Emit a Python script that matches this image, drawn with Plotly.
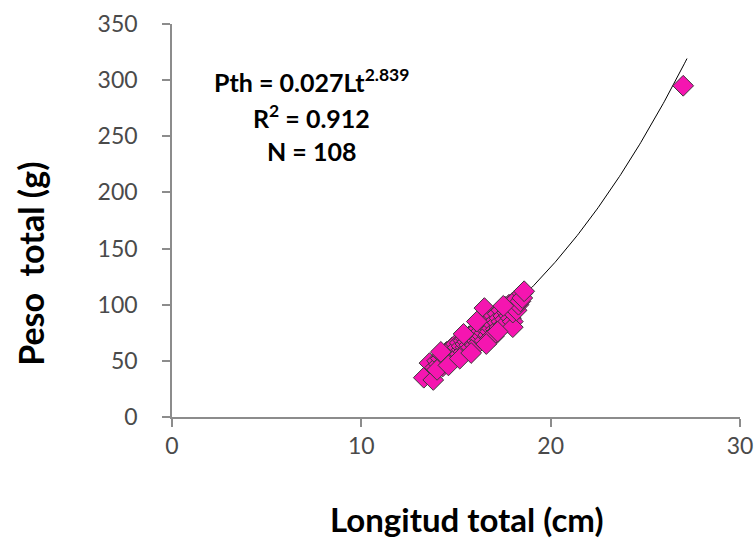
import numpy as np
import plotly.graph_objects as go

# Longitud total (cm) and Peso total (g)
longitud = [13.3, 13.8, 13.6, 13.9, 14.0, 14.1, 14.2, 14.3, 14.3, 14.4,
            14.5, 14.5, 14.6, 14.7, 14.7, 14.8, 14.8, 14.9, 15.0, 15.0,
            15.0, 15.1, 15.1, 15.2, 15.2, 15.3, 15.3, 15.4, 15.4, 15.5,
            15.5, 15.5, 15.6, 15.6, 15.7, 15.7, 15.8, 15.8, 15.9, 15.9,
            16.0, 16.0, 16.0, 16.1, 16.1, 16.2, 16.2, 16.2, 16.3, 16.3,
            16.4, 16.4, 16.5, 16.5, 16.5, 16.6, 16.6, 16.7, 16.7, 16.8,
            16.8, 16.9, 16.9, 17.0, 17.0, 17.0, 17.1, 17.1, 17.2, 17.2,
            17.3, 17.3, 17.4, 17.4, 17.5, 17.5, 17.6, 17.6, 17.7, 17.7,
            17.8, 17.8, 17.9, 17.9, 18.0, 18.0, 18.0, 18.0, 18.1, 18.2,
            18.2, 18.3, 18.4, 18.5, 18.5, 18.6, 14.0, 14.6, 15.2, 16.8,
            17.5, 16.1, 15.4, 14.2, 16.6, 15.8, 17.2, 27.0]
peso = [35, 33, 48, 44, 50, 47, 52, 45, 55, 49,
        53, 58, 50, 56, 60, 54, 62, 57, 53, 60,
        65, 58, 62, 56, 66, 60, 63, 58, 68, 62,
        65, 70, 60, 67, 64, 72, 62, 68, 66, 74,
        64, 70, 76, 68, 72, 66, 74, 79, 70, 76,
        72, 80, 97, 68, 75, 78, 83, 73, 80, 76,
        85, 79, 88, 72, 82, 90, 78, 86, 84, 92,
        80, 88, 85, 95, 82, 90, 87, 98, 84, 93,
        90, 100, 88, 96, 85, 80, 93, 102, 98, 95,
        105, 100, 103, 110, 106, 112, 42, 46, 52, 70,
        99, 85, 74, 58, 65, 57, 76, 295]

# Fitted power model Pth = a * Lt^b
coef_a = 0.027
coef_b = 2.839
fit_x = np.linspace(min(longitud), 27.2, 200)
fit_y = coef_a * fit_x ** coef_b

x_ticks = [0, 10, 20, 30]
y_ticks = [0, 50, 100, 150, 200, 250, 300, 350]

FONT = "Lato, 'Open Sans', sans-serif"

fig = go.Figure()
fig.add_trace(go.Scatter(
    x=fit_x, y=fit_y, mode="lines",
    line=dict(color="black", width=1), showlegend=False, hoverinfo="skip"))
fig.add_trace(go.Scatter(
    x=longitud, y=peso, mode="markers",
    marker=dict(symbol="diamond", size=16, color="#F515B0",
                line=dict(color="#3a3a3a", width=1)),
    showlegend=False, hoverinfo="x+y"))

annot = ["Pth = 0.027Lt<sup>2.839</sup>", "R<sup>2</sup> = 0.912", "N = 108"]
annot_y = [300, 268, 237]
for t, yy in zip(annot, annot_y):
    fig.add_annotation(x=7.35, y=yy, text=t, showarrow=False,
                       font=dict(family=FONT, size=25, color="black", weight="bold"),
                       xanchor="center", yanchor="middle")

# Axis titles
fig.add_annotation(xref="paper", yref="paper", x=0.518, y=-0.26,
                   text="Longitud total (cm)", showarrow=False,
                   xanchor="center", yanchor="middle",
                   font=dict(family=FONT, size=33, color="black", weight="bold"))
fig.add_annotation(xref="paper", yref="paper", x=-0.248, y=0.39,
                   text="Peso\u00a0\u00a0total (g)", showarrow=False, textangle=-90,
                   xanchor="center", yanchor="middle",
                   font=dict(family=FONT, size=34, color="black", weight="bold"))

axis_common = dict(showgrid=False, zeroline=False, showline=True,
                   linecolor="#8c8c8c", linewidth=1.5, ticks="outside",
                   ticklen=8, tickcolor="#8c8c8c", tickwidth=1.5,
                   automargin=False,
                   tickfont=dict(family=FONT, size=23, color="#4a4a4a"))

fig.update_xaxes(range=[0, 30], tickvals=x_ticks, ticklabelstandoff=0, **axis_common)
fig.update_yaxes(range=[0, 350], tickvals=y_ticks, ticklabelstandoff=20, **axis_common)

fig.update_layout(width=756, height=550,
                  margin=dict(l=172, r=16, t=24, b=133, autoexpand=False),
                  plot_bgcolor="white", paper_bgcolor="white")

fig.write_html("out.html")
